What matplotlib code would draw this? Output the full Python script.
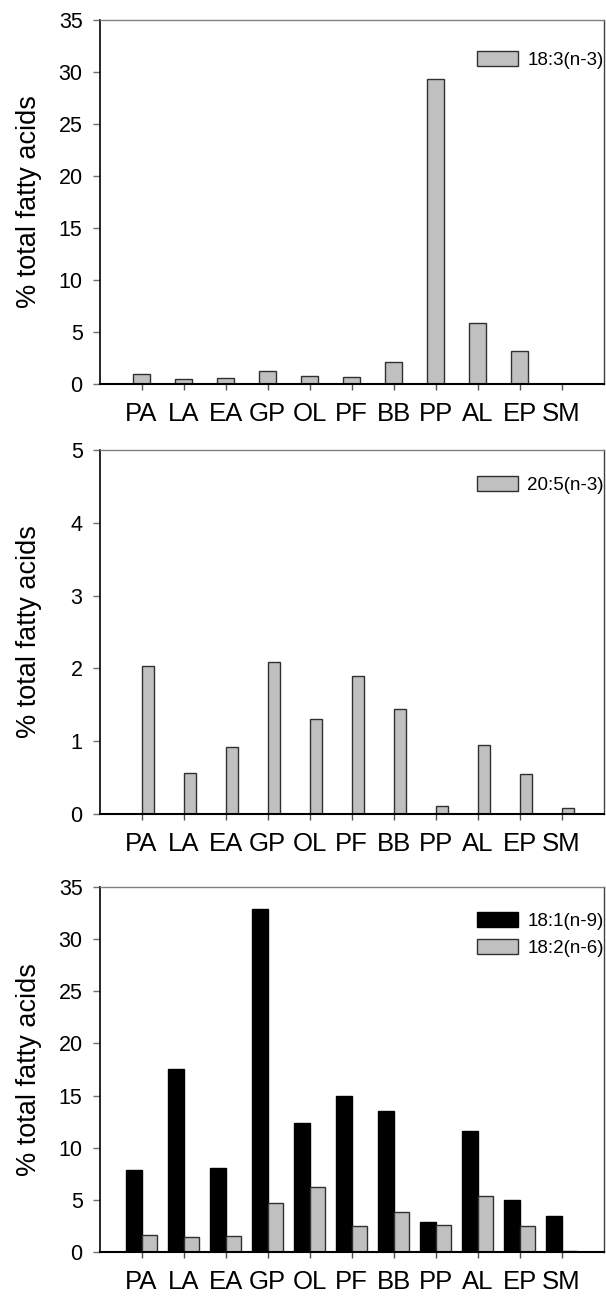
import numpy as np
import matplotlib
matplotlib.use('Agg')
import matplotlib.pyplot as plt

plt.rcParams['font.family'] = ['Liberation Sans', 'DejaVu Sans']

# Sites along x axis
sites = ['PA', 'LA', 'EA', 'GP', 'OL', 'PF', 'BB', 'PP', 'AL', 'EP', 'SM']

# % total fatty acids
ala_18_3 = [0.96, 0.48, 0.61, 1.21, 0.74, 0.64, 2.14, 29.3, 5.88, 3.16, 0.0]
epa_20_5 = [2.03, 0.56, 0.92, 2.09, 1.30, 1.89, 1.44, 0.11, 0.95, 0.55, 0.08]
ole_18_1 = [7.9, 17.6, 8.1, 32.9, 12.4, 15.0, 13.5, 2.85, 11.65, 4.95, 3.45]
lin_18_2 = [1.63, 1.47, 1.56, 4.66, 6.22, 2.46, 3.86, 2.55, 5.33, 2.46, 0.12]

gray = '#c0c0c0'
edge = '#303030'
x = np.arange(len(sites))

fig = plt.figure(figsize=(6.06, 12.98), dpi=100)
ax1 = fig.add_axes([0.1642, 0.7042, 0.8317, 0.2804])
ax2 = fig.add_axes([0.1642, 0.3729, 0.8317, 0.2804])
ax3 = fig.add_axes([0.1642, 0.0354, 0.8317, 0.2812])

# top: 18:3(n-3), bars centred on ticks
ax1.bar(x, ala_18_3, width=0.41, color=gray, edgecolor=edge, linewidth=1, label='18:3(n-3)')
# middle: 20:5(n-3), bars sit just right of tick
ax2.bar(x + 0.15, epa_20_5, width=0.3, color=gray, edgecolor=edge, linewidth=1, label='20:5(n-3)')
# bottom: 18:1(n-9) and 18:2(n-6) pairs
w = 0.36
ax3.bar(x - w / 2, ole_18_1, width=w, color='black', edgecolor='black', linewidth=1, label='18:1(n-9)')
ax3.bar(x + w / 2, lin_18_2, width=w, color=gray, edgecolor=edge, linewidth=1, label='18:2(n-6)')

limits = [(ax1, 35, 5, 0.915), (ax2, 5, 1, 0.928), (ax3, 35, 5, 0.932)]
for ax, top, step, legy in limits:
    ax.set_xlim(-1, 11)
    ax.set_ylim(0, top)
    ax.set_yticks(np.arange(0, top + step, step))
    ax.set_xticks(x)
    ax.set_xticklabels(sites)
    ax.tick_params(axis='x', direction='out', length=4.3, width=1, color='#505050', pad=8.5, labelsize=18.5)
    ax.tick_params(axis='y', direction='out', length=4.7, width=1, color='#707070', pad=7.5, labelsize=15.5)
    ax.set_ylabel('% total fatty acids', fontsize=19.5)
    ax.yaxis.set_label_coords(-0.115, 0.5)
    ax.spines['left'].set_linewidth(1.2)
    ax.spines['bottom'].set_linewidth(1.5)
    ax.spines['top'].set_color('#808080')
    ax.spines['top'].set_linewidth(1)
    ax.spines['right'].set_color('#404040')
    ax.spines['right'].set_linewidth(1)
    ax.legend(loc='upper left', bbox_to_anchor=(0.748, legy), frameon=False, fontsize=13.5,
              handlelength=2.2, handleheight=0.85, handletextpad=0.5, labelspacing=0.5,
              borderpad=0, borderaxespad=0)

fig.savefig('out.png', dpi=100)
